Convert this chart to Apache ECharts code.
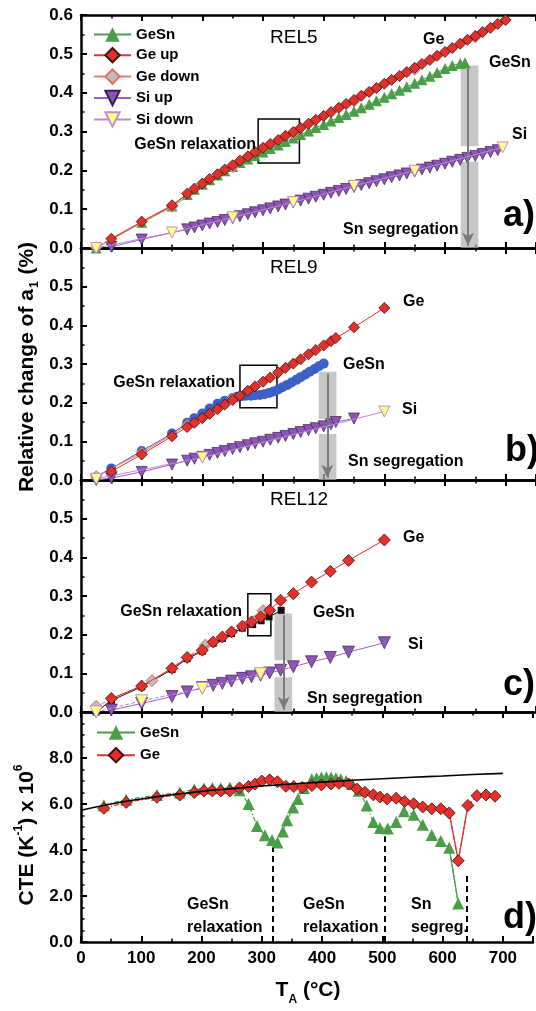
<!DOCTYPE html>
<html>
<head>
<meta charset="utf-8">
<script src="https://cdn.jsdelivr.net/npm/echarts@6/dist/echarts.min.js"></script>
<style>html,body{margin:0;padding:0;background:#fff}#main{width:536px;height:1011px}</style>
</head>
<body>
<div id="main"></div>
<script>
// panel a  (REL5)
const aGeUpT = [50,100,150,175,187,200,212,225,237,250,262,275,287,300,312,325,337,350,362,375,387,400,412,425,437,450,462,475,487,500,512,525,537,550,562,575,587,600,612,625,637,650,662,675,687,700];
const aGeUpV = [0.024,0.068,0.110,0.140,0.153,0.166,0.178,0.190,0.202,0.213,0.225,0.236,0.247,0.258,0.268,0.278,0.289,0.299,0.309,0.320,0.330,0.340,0.350,0.361,0.371,0.381,0.392,0.402,0.412,0.423,0.433,0.443,0.453,0.464,0.474,0.484,0.495,0.505,0.515,0.526,0.536,0.546,0.556,0.567,0.577,0.587];
const aGeSnT = [25,50,100,150,175,187,200,212,225,237,250,262,275,287,300,312,325,337,350,362,375,387,400,412,425,437,450,462,475,487,500,512,525,537,550,562,575,587,600,612,625,633];
const aGeSnV = [0.0,0.022,0.066,0.108,0.138,0.151,0.164,0.176,0.188,0.199,0.210,0.220,0.229,0.238,0.247,0.256,0.265,0.274,0.283,0.292,0.301,0.310,0.318,0.327,0.336,0.344,0.352,0.361,0.370,0.379,0.388,0.397,0.406,0.415,0.424,0.433,0.442,0.452,0.462,0.470,0.475,0.477];
const aGeDownT = [25,150,250,350,450,550,650];
const aGeDownV = [0.002,0.106,0.208,0.295,0.377,0.459,0.542];
const aSiUpT = [50,100,175,187,200,212,225,237,250,262,275,287,300,312,325,337,350,362,375,387,400,412,425,437,450,462,475,487,500,512,525,537,550,562,575,587,600,612,625,637,650,662,675,687];
const aSiUpV = [0.003,0.022,0.048,0.053,0.058,0.063,0.067,0.072,0.077,0.082,0.087,0.092,0.097,0.102,0.107,0.112,0.117,0.122,0.127,0.132,0.137,0.142,0.147,0.152,0.157,0.162,0.167,0.172,0.177,0.182,0.187,0.192,0.197,0.202,0.207,0.212,0.217,0.222,0.227,0.232,0.237,0.242,0.247,0.252];
const aSiDownT = [25,150,250,350,450,550,695];
const aSiDownV = [0.0,0.040,0.079,0.118,0.160,0.199,0.259];

// panel b  (REL9)
const bGeUpT = [50,100,150,175,187,200,212,225,237,250,262,275,287,300,312,325,337,350,362,375,387,400,412,420,450,500];
const bGeUpV = [0.022,0.066,0.113,0.137,0.148,0.160,0.171,0.183,0.195,0.207,0.218,0.231,0.242,0.254,0.265,0.278,0.290,0.301,0.312,0.325,0.336,0.348,0.359,0.367,0.395,0.445];
const bGeDownT = [25,100,175,250];
const bGeDownV = [0.010,0.070,0.142,0.210];
const bGeSnT = [25,50,100,150,175,187,200,212,225,237,250,257,265,272,280,287,295,302,310,317,325,332,340,347,355,362,370,377,385,392,400];
const bGeSnV = [0.008,0.030,0.075,0.120,0.148,0.160,0.172,0.185,0.197,0.205,0.212,0.215,0.217,0.218,0.218,0.219,0.220,0.222,0.225,0.229,0.234,0.240,0.246,0.252,0.259,0.266,0.273,0.280,0.287,0.294,0.301];
const bSiUpT = [25,50,100,150,175,187,200,212,225,237,250,262,275,287,300,312,325,337,350,362,375,387,400,412,420,450];
const bSiUpV = [0.0,0.005,0.021,0.040,0.050,0.055,0.060,0.065,0.070,0.075,0.080,0.085,0.090,0.095,0.099,0.104,0.109,0.114,0.119,0.124,0.129,0.134,0.139,0.144,0.150,0.159];
const bSiDownT = [25,200,500];
const bSiDownV = [0.003,0.058,0.177];

// panel c  (REL12)
const cGeUpT = [50,100,150,175,200,218,233,248,266,281,296,311,329,350,380,411,441,500];
const cGeUpV = [0.035,0.067,0.113,0.141,0.160,0.181,0.194,0.207,0.222,0.233,0.246,0.263,0.289,0.306,0.336,0.364,0.392,0.445];
const cGeDownT = [25,117,205,300];
const cGeDownV = [0.015,0.081,0.173,0.262];
const cGeSnT = [25,50,100,150,175,200,218,233,248,266,283,297,310,330];
const cGeSnV = [0.0,0.030,0.065,0.110,0.138,0.157,0.178,0.190,0.203,0.217,0.226,0.236,0.246,0.263];
const cSiUpT = [50,100,150,175,200,218,233,248,266,281,296,311,329,350,380,411,441,500];
const cSiUpV = [0.005,0.022,0.040,0.052,0.063,0.069,0.074,0.080,0.087,0.091,0.095,0.101,0.108,0.117,0.130,0.141,0.155,0.179];
const cSiDownT = [25,100,200,296];
const cSiDownV = [0.0,0.029,0.061,0.099];

// panel d  (CTE)
const dGeSnT = [38,75,126,164,188,204,218,232,247,263,278,292,305,317,326,335,342,352,360,370,383,391,399,407,415,423,431,440,450,461,474,485,496,509,523,536,552,567,582,597,611,626];
const dGeSnV = [5.95,6.19,6.39,6.50,6.64,6.67,6.70,6.68,6.72,6.60,6.00,5.04,4.64,4.43,4.33,4.80,5.29,5.85,6.22,6.70,7.08,7.12,7.15,7.16,7.15,7.12,7.08,7.00,6.87,6.58,5.94,5.22,4.96,4.94,5.22,5.69,5.53,5.10,4.65,4.39,4.10,1.67];
const dGeT = [38,75,126,164,188,204,218,232,247,263,278,289,300,313,326,340,353,367,383,399,415,428,444,458,471,485,496,508,523,537,552,567,582,597,611,626,642,657,672,687];
const dGeV = [5.81,6.07,6.29,6.39,6.50,6.57,6.57,6.57,6.57,6.70,6.76,6.87,7.00,7.05,6.97,6.77,6.76,6.72,6.80,6.83,6.87,6.90,6.87,6.65,6.51,6.40,6.30,6.22,6.25,6.11,6.01,5.87,5.79,5.79,5.61,3.53,5.94,6.36,6.39,6.34];
const dFitT = [0,50,100,150,200,250,300,350,400,450,500,550,600,650,700];
const dFitV = [5.73,6.00,6.22,6.40,6.55,6.67,6.78,6.87,6.95,7.03,7.10,7.16,7.22,7.28,7.33];
const dDashT = [318,504,640];
const dDashTop = [4.1,4.6,3.0];

const xTicks = [0,100,200,300,400,500,600,700];

const RED = '#e3302a', GREEN = '#4b9e48', PURPLE = '#8d55b6', YELLOW = '#ffff85',
      GRAY = '#bcbcbc', BLUE = '#3c60c6';
const FONT = '"Liberation Sans", Arial, sans-serif';
const DOWN = 'path://M0,0L10,0L5,9Z';

function pairs(xs, ys) { return xs.map((x, i) => [x, ys[i]]); }

function ser(name, gi, xs, ys, st) {
  return Object.assign({ name: name, type: 'line', xAxisIndex: gi * 2, yAxisIndex: gi,
    data: pairs(xs, ys), silent: true }, st);
}

const sGeUp = (sz) => ({ symbol: 'diamond', symbolSize: sz, z: 6,
  itemStyle: { color: RED, borderColor: '#401010', borderWidth: 0.8 }, lineStyle: { color: RED, width: 1 } });
const sGeDown = (sz, dash) => ({ symbol: 'diamond', symbolSize: sz, z: 5,
  itemStyle: { color: GRAY, borderColor: '#ef6a60', borderWidth: 1 }, lineStyle: { color: '#f07a70', width: 1, type: dash || 'solid' } });
const sSiUp = (sz) => ({ symbol: DOWN, symbolSize: sz, z: 4,
  itemStyle: { color: PURPLE, borderColor: '#3d1f55', borderWidth: 0.7 }, lineStyle: { color: '#9a62c0', width: 1 } });
const sSiDown = (sz, dash) => ({ symbol: DOWN, symbolSize: sz, z: 5,
  itemStyle: { color: YELLOW, borderColor: '#c48fc8', borderWidth: 1 }, lineStyle: { color: '#b98ad6', width: 1, type: dash || 'solid' } });
const sGreen = (sz) => ({ symbol: 'triangle', symbolSize: sz, z: 3,
  itemStyle: { color: GREEN }, lineStyle: { color: GREEN, width: 1 } });

// helper series holding bands, arrows, boxes
function deco(gi, areas, lines) {
  return { type: 'line', xAxisIndex: gi * 2, yAxisIndex: gi, data: [], silent: true, z: 2,
    markArea: { silent: true, label: { show: false }, data: areas },
    markLine: { silent: true, symbol: ['none', 'arrow'], symbolSize: [9, 13], label: { show: false },
      lineStyle: { color: '#7a7a7a', width: 2, type: 'solid' }, data: lines } };
}
const band = (x1, y1, x2, y2) => [{ coord: [x1, y1], itemStyle: { color: 'rgba(175,175,175,0.7)' } }, { coord: [x2, y2] }];
const box = (x1, y1, x2, y2) => [{ coord: [x1, y1], itemStyle: { color: 'rgba(0,0,0,0)', borderColor: '#000', borderWidth: 1.5 } }, { coord: [x2, y2] }];
const arrow = (x, y1, y2) => [{ coord: [x, y1] }, { coord: [x, y2] }];

const grids = [
  { left: 81, top: 15, width: 465, height: 233 },
  { left: 81, top: 248, width: 465, height: 232 },
  { left: 81, top: 480, width: 465, height: 232 },
  { left: 81, top: 712, width: 465, height: 230 }
];

const xAxes = [];
grids.forEach((g, i) => {
  ['bottom', 'top'].forEach(pos => {
    xAxes.push({
      gridIndex: i, type: 'value', position: pos, min: 0, max: 750, interval: 100,
      axisLine: { onZero: false, lineStyle: { color: '#000', width: 2.5 } },
      axisTick: { inside: true, length: 6, lineStyle: { color: '#000', width: 2 } },
      minorTick: { show: true, splitNumber: 2, length: 3.5, lineStyle: { color: '#000', width: 1.5 } },
      splitLine: { show: false },
      axisLabel: { show: i === 3 && pos === 'bottom', fontSize: 17, fontWeight: 'bold', color: '#000', margin: 8,
        formatter: v => xTicks.indexOf(v) >= 0 ? String(v) : '' }
    });
  });
});

function yAxis(i, max, interval, minor, hideTop) {
  return {
    gridIndex: i, type: 'value', min: 0, max: max, interval: interval,
    axisLine: { lineStyle: { color: '#000', width: 2.5 } },
    axisTick: { inside: true, length: 6, lineStyle: { color: '#000', width: 2 } },
    minorTick: { show: true, splitNumber: minor, length: 3.5, lineStyle: { color: '#000', width: 1.5 } },
    splitLine: { show: false },
    axisLabel: { fontSize: 17, fontWeight: 'bold', color: '#000', margin: 8,
      formatter: v => (hideTop && v > max - interval / 2) ? '' : v.toFixed(1) }
  };
}

const series = [
  // a
  deco(0, [band(626, 0.47, 655, 0.262), band(626, 0.222, 655, 0), box(292, 0.219, 360, 0.332)], [arrow(638, 0.462, 0.006)]),
  ser('GeSn', 0, aGeSnT, aGeSnV, sGreen(11)),
  ser('Ge down', 0, aGeDownT, aGeDownV, sGeDown(11)),
  ser('Ge up', 0, aGeUpT, aGeUpV, sGeUp(11)),
  ser('Si up', 0, aSiUpT, aSiUpV, sSiUp(11)),
  ser('Si down', 0, aSiDownT, aSiDownV, sSiDown(11)),
  // b
  deco(1, [band(392, 0.28, 421, 0.158), band(392, 0.119, 421, 0), box(262, 0.187, 323, 0.297)], [arrow(406, 0.275, 0.006)]),
  ser('GeSn b', 1, bGeSnT, bGeSnV, { symbol: 'circle', symbolSize: 10, z: 3, itemStyle: { color: BLUE }, lineStyle: { color: BLUE, width: 1 } }),
  ser('Ge down b', 1, bGeDownT, bGeDownV, sGeDown(11)),
  ser('Ge up b', 1, bGeUpT, bGeUpV, sGeUp(11)),
  ser('Si down b', 1, bSiDownT, bSiDownV, sSiDown(11)),
  ser('Si up b', 1, bSiUpT, bSiUpV, sSiUp(11)),
  // c
  deco(2, [band(319, 0.255, 348, 0.134), band(319, 0.09, 348, 0), box(275, 0.197, 313, 0.306)], [arrow(334, 0.25, 0.006)]),
  ser('GeSn c', 2, cGeSnT, cGeSnV, { symbol: 'rect', symbolSize: 7, z: 3, itemStyle: { color: '#111' }, lineStyle: { color: '#111', width: 1 } }),
  ser('Ge down c', 2, cGeDownT, cGeDownV, sGeDown(12, 'dashed')),
  ser('Ge up c', 2, cGeUpT, cGeUpV, sGeUp(12)),
  ser('Si down c', 2, cSiDownT, cSiDownV, sSiDown(12, 'dashed')),
  ser('Si up c', 2, cSiUpT, cSiUpV, sSiUp(12)),
  // d
  {
    type: 'line', xAxisIndex: 6, yAxisIndex: 3, data: pairs(dFitT, dFitV), smooth: true, showSymbol: false,
    silent: true, z: 7, lineStyle: { color: '#000', width: 1.6 },
    markLine: { silent: true, symbol: 'none', label: { show: false },
      lineStyle: { color: '#000', width: 2, type: [6, 4] },
      data: dDashT.map((t, i) => [{ coord: [t, 0] }, { coord: [t, dDashTop[i]] }]) }
  },
  ser('GeSn seg', 3, dGeSnT.slice(-2), dGeSnV.slice(-2), { showSymbol: false, z: 2, lineStyle: { color: GREEN, width: 1.3 } }),
  ser('Ge seg', 3, dGeT.slice(34, 37), dGeV.slice(34, 37), { showSymbol: false, z: 2, lineStyle: { color: RED, width: 1.3 } }),
  ser('GeSn ', 3, dGeSnT, dGeSnV, { symbol: 'triangle', symbolSize: 12, z: 4, itemStyle: { color: GREEN },
    lineStyle: { color: GREEN, width: 1.2, type: [5, 2, 1.5, 2] } }),
  ser('Ge', 3, dGeT, dGeV, { symbol: 'diamond', symbolSize: 12, z: 5,
    itemStyle: { color: RED, borderColor: '#401010', borderWidth: 0.8 }, lineStyle: { color: RED, width: 1.2, type: [5, 2, 1.5, 2] } })
];

const bold16 = 'bold 16px ' + FONT;
function txt(x, y, s, align, font) {
  return { type: 'text', x: x, y: y, silent: true, z: 100,
    style: { text: s, font: font || bold16, fill: '#000', align: align || 'left', verticalAlign: 'middle' } };
}
const relFont = '19px ' + FONT;
const bigFont = 'bold 36px ' + FONT;

const graphics = [
  // panel a
  txt(270, 38, 'REL5', 'left', relFont),
  txt(256, 145, 'GeSn relaxation', 'right'),
  txt(423, 40, 'Ge'), txt(489, 63, 'GeSn'), txt(512, 135, 'Si'),
  txt(343, 230, 'Sn segregation'),
  txt(503, 216, 'a)', 'left', bigFont),
  // panel b
  txt(270, 268, 'REL9', 'left', relFont),
  txt(235, 383, 'GeSn relaxation', 'right'),
  txt(403, 302, 'Ge'), txt(343, 365, 'GeSn'), txt(402, 410, 'Si'),
  txt(348, 462, 'Sn segregation'),
  txt(505, 451, 'b)', 'left', bigFont),
  // panel c
  txt(270, 500, 'REL12', 'left', relFont),
  txt(242, 612, 'GeSn relaxation', 'right'),
  txt(403, 538, 'Ge'), txt(313, 613, 'GeSn'), txt(408, 645, 'Si'),
  txt(307, 699, 'Sn segregation'),
  txt(503, 685, 'c)', 'left', bigFont),
  // panel d
  txt(187, 905, 'GeSn'), txt(187, 928, 'relaxation'),
  txt(303, 905, 'GeSn'), txt(303, 928, 'relaxation'),
  txt(411, 905, 'Sn'), txt(411, 928, 'segreg.'),
  txt(503, 918, 'd)', 'left', bigFont),
  // axis titles
  { type: 'text', x: 27, y: 367, rotation: Math.PI / 2, silent: true,
    style: { text: '{a|Relative change of a}{s|1}{a| (%)}', align: 'center', verticalAlign: 'middle', fill: '#000',
      rich: { a: { font: 'bold 21px ' + FONT, fill: '#000', lineHeight: 28 },
              s: { font: 'bold 12px ' + FONT, fill: '#000', verticalAlign: 'bottom', lineHeight: 28, padding: [0, 1, 0, 1] } } } },
  { type: 'text', x: 27, y: 835, rotation: Math.PI / 2, silent: true,
    style: { text: '{a|CTE (K}{p|-1}{a|) x 10}{p|6}', align: 'center', verticalAlign: 'middle', fill: '#000',
      rich: { a: { font: 'bold 21px ' + FONT, fill: '#000', lineHeight: 28 },
              p: { font: 'bold 12px ' + FONT, fill: '#000', verticalAlign: 'top', lineHeight: 22 } } } },
  { type: 'text', x: 308, y: 990, silent: true,
    style: { text: '{a|T}{s|A}{a| (°C)}', align: 'center', verticalAlign: 'middle', fill: '#000',
      rich: { a: { font: 'bold 21px ' + FONT, fill: '#000', lineHeight: 26 },
              s: { font: 'bold 12px ' + FONT, fill: '#000', verticalAlign: 'bottom', lineHeight: 32 } } } }
];

const legendText = { fontWeight: 'bold', fontSize: 15, color: '#000', fontFamily: FONT };

const chart = echarts.init(document.getElementById('main'), null, { renderer: 'canvas' });
chart.setOption({
  animation: false,
  backgroundColor: '#fff',
  textStyle: { fontFamily: FONT },
  grid: grids,
  xAxis: xAxes,
  yAxis: [yAxis(0, 0.6, 0.1, 2, false), yAxis(1, 0.6, 0.1, 2, true), yAxis(2, 0.6, 0.1, 2, true), yAxis(3, 10, 2, 4, true)],
  legend: [
    { data: ['GeSn', 'Ge up', 'Ge down', 'Si up', 'Si down'], orient: 'vertical', left: 93, top: 27, padding: 0,
      itemWidth: 37, itemHeight: 18, itemGap: 5, selectedMode: false, textStyle: legendText,
      lineStyle: { type: 'solid' } },
    { data: ['GeSn ', 'Ge'], orient: 'vertical', left: 96, top: 725, padding: 0,
      itemWidth: 38, itemHeight: 18, itemGap: 7, selectedMode: false, textStyle: legendText,
      lineStyle: { type: 'solid' } }
  ],
  series: series,
  graphic: graphics
});
</script>
</body>
</html>
